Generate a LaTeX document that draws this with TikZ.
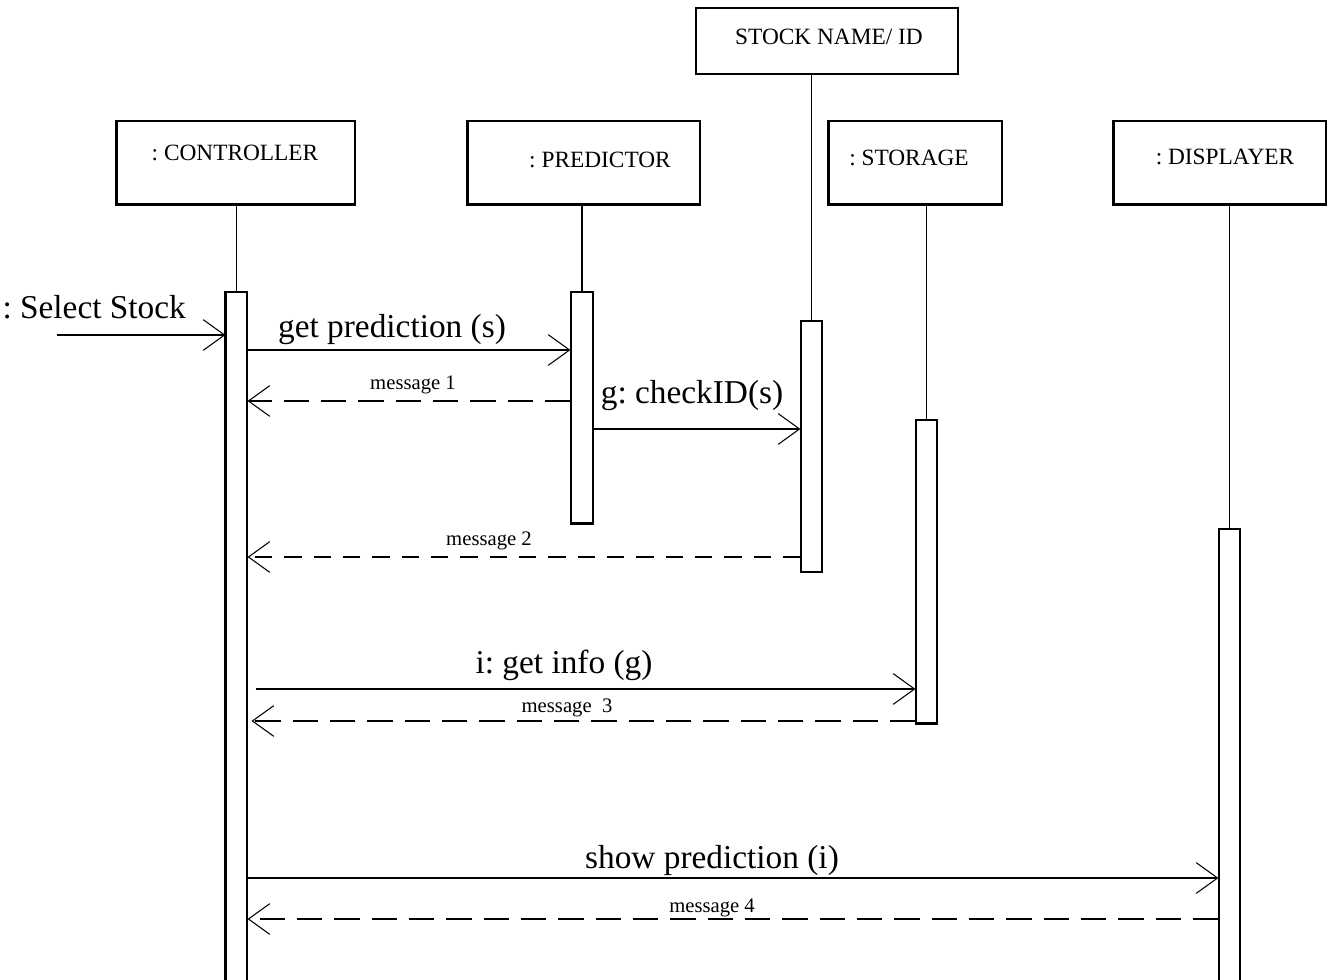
\documentclass[tikz,border=0pt]{standalone}
\usepackage{fontspec}
\setmainfont{Liberation Serif}
\usetikzlibrary{arrows.meta}
\frenchspacing
\begin{document}
\begin{tikzpicture}[x=0.75pt,y=-0.75pt,line width=0.8pt,
  objbox/.style={draw,inner sep=0pt,minimum height=62.25pt},
  bar/.style={draw,fill=white,inner sep=0pt,minimum width=15.75pt},
  objtxt/.style={font=\fontsize{17.5}{20}\selectfont,anchor=base,inner sep=0pt},
  bigtxt/.style={font=\fontsize{25}{30}\selectfont,anchor=base,inner sep=0pt},
  smalltxt/.style={font=\fontsize{15.5}{18}\selectfont,anchor=base,inner sep=0pt},
  msg/.style={-{Straight Barb[length=16pt,width=23pt]}},
  ret/.style={msg,dash pattern=on 19pt off 9pt},
  shadowedge/.style={line width=2pt}]
\useasboundingbox (0,0) rectangle (1328,980);

% object boxes
\node[objbox,minimum width=178.5pt] (cbox) at (236,162.5) {};
\node[objbox,minimum width=174pt] (pbox) at (584,162.5) {};
\node[draw,inner sep=0pt,minimum width=196.5pt,minimum height=49.5pt] (sbox) at (827,41) {};
\node[objbox,minimum width=129.75pt] (gbox) at (915.5,162.5) {};
\node[objbox,minimum width=159pt] (dbox) at (1220,162.5) {};
\foreach \b in {cbox,pbox,gbox,dbox}
  \draw[shadowedge] (\b.north west) -- (\b.south west) -- (\b.south east);

\node[objtxt] (ct) at (235,161) {: CONTROLLER};
\node[objtxt] (pt) at (600,168) {: PREDICTOR};
\node[objtxt] (st) at (829,45) {STOCK NAME/ ID};
\node[objtxt] (gt) at (909,166) {: STORAGE};
\node[objtxt] (dt) at (1225,165) {: DISPLAYER};

% activation bars
\node[bar,minimum height=522pt] (ca) at (236.5,640) {};
\node[bar,minimum width=16.5pt,minimum height=173.25pt] (pa) at (582,407.5) {};
\node[bar,minimum height=188.25pt] (sa) at (811.5,446.5) {};
\node[bar,minimum height=227.25pt] (ga) at (926.5,571.5) {};
\node[bar,minimum height=345pt] (da) at (1229.5,759) {};
\draw[shadowedge] (ca.north west) -- (ca.south west);
\draw[shadowedge] (pa.south west) -- (pa.south east);
\draw[shadowedge] (ga.south west) -- (ga.south east);

% lifelines
\draw (ca.north) -- (ca.north |- cbox.south);
\draw (pa.north) -- (pa.north |- pbox.south);
\draw (sa.north) -- (sa.north |- sbox.south);
\draw (ga.north) -- (ga.north |- gbox.south);
\draw (da.north) -- (da.north |- dbox.south);

% found message
\coordinate (selstart) at (57,335);
\draw[msg] (selstart) -- (selstart -| ca.west);
\node[bigtxt,anchor=base west] (selt) at (2,319) {: Select Stock};

% messages
\draw[msg] (ca.east |- 0,350) -- (pa.west |- 0,350);
\node[bigtxt] (m1t) at (392,338) {get prediction (s)};

\draw[ret] (pa.west |- 0,401) -- (ca.east |- 0,401);
\node[smalltxt] (r1t) at (413,390) {message 1};

\draw[msg] (pa.east |- 0,429) -- (sa.west |- 0,429);
\node[bigtxt] (m2t) at (692,404) {g: checkID(s)};

\draw[ret,dash pattern=on 13pt off 9pt] (sa.west |- 0,557) -- (ca.east |- 0,557);
\node[smalltxt] (r2t) at (489,545) {message 2};

\draw[msg] ([xshift=6pt]ca.east |- 0,689) -- (ga.west |- 0,689);
\node[bigtxt] (m3t) at (564,673) {i: get info (g)};

\draw[ret] (ga.west |- 0,721) -- ([xshift=3pt]ca.east |- 0,721);
\node[smalltxt] (r3t) at (567,712) {message~~3};

\draw[msg] (ca.east |- 0,878) -- (da.west |- 0,878);
\node[bigtxt] (m4t) at (712,868) {show prediction (i)};

\draw[ret] (da.west |- 0,919) -- (ca.east |- 0,919);
\node[smalltxt] (r4t) at (712,912) {message 4};
\end{tikzpicture}
\end{document}
